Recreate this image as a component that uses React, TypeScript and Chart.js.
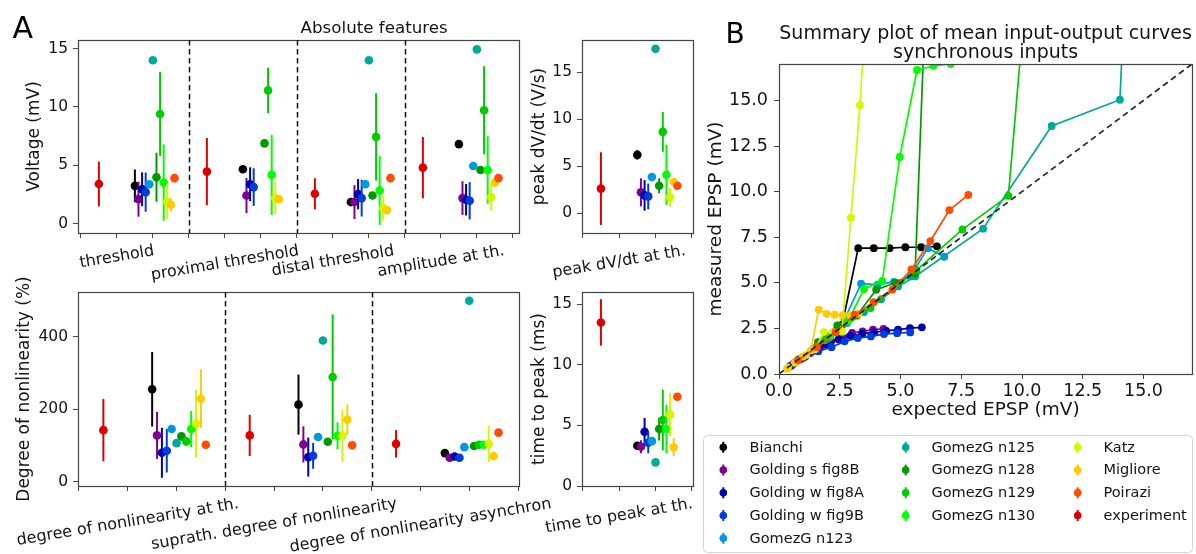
import React, { useEffect, useRef } from 'react';
import { Chart, registerables } from 'chart.js';

Chart.register(...registerables);

const W = 1196;
const H = 554;
const FONT = '"DejaVu Sans", "Liberation Sans", sans-serif';
const INK = '#141414';
const SPINE = '#444444';

// ---------------- series ----------------
const SERIES = ['Bianchi', 'Golding s fig8B', 'Golding w fig8A', 'Golding w fig9B', 'GomezG n123', 'GomezG n125',
  'GomezG n128', 'GomezG n129', 'GomezG n130', 'Katz', 'Migliore', 'Poirazi', 'experiment'];
const COLORS = ['#000000', '#800091', '#0000aa', '#003cdd', '#0099dd', '#00aa99',
  '#009900', '#00cc00', '#00ff00', '#d4f600', '#ffcc00', '#ff4d00', '#dd0000'];
const EXP_INDEX = 12;

// ---------------- panel A : feature categories ----------------
const TOP_FEATURES = ['threshold', 'proximal threshold', 'distal threshold', 'amplitude at th.'];
const DVDT_FEATURES = ['peak dV/dt at th.'];
const NONLIN_FEATURES = ['degree of nonlinearity at th.', 'suprath. degree of nonlinearity', 'degree of nonlinearity asynchron'];
const TTP_FEATURES = ['time to peak at th.'];

// values per series (order of SERIES), mean and sd
const THRESHOLD_MEAN = [3.24, 2.1, 2.95, 2.7, 3.38, 14.0, 3.98, 9.4, 3.52, 1.9, 1.62, 3.9, 3.4];
const THRESHOLD_SD = [1.4, 1.5, 1.45, 1.68, 0, 0, 2.1, 3.6, 3.27, 1.5, 0.57, 0, 1.92];
const PROXIMAL_MEAN = [4.66, 2.41, 3.38, 3.13, null, null, 6.88, 11.42, 4.18, 2.19, 2.1, null, 4.46];
const PROXIMAL_SD = [0.1, 1.5, 1.45, 1.62, null, null, 0, 1.95, 3.43, 1.38, 0, null, 2.88];
const DISTAL_MEAN = [1.85, 1.85, 2.53, 2.19, 3.38, 14.0, 2.41, 7.44, 2.84, 1.34, 1.16, 3.9, 2.56];
const DISTAL_SD = [0, 1.45, 1.3, 1.58, 0, 0, 0, 3.75, 2.95, 1.07, 0, 0, 1.33];
const AMPLITUDE_MEAN = [6.82, 2.19, 2.05, 1.96, 4.94, 14.94, 4.6, 9.72, 4.6, 2.27, 3.52, 3.9, 4.8];
const AMPLITUDE_SD = [0, 1.45, 1.35, 1.6, 0, 0, 0, 3.77, 2.9, 1.13, 0.2, 0, 2.63];
const DVDT_MEAN = [6.2, 2.2, 1.88, 1.77, 3.83, 17.5, 2.9, 8.65, 4.08, 1.67, 3.3, 2.9, 2.6];
const DVDT_SD = [0.5, 1.5, 1.63, 1.37, 0, 0, 0.8, 2.13, 3.21, 1.01, 0.28, 0, 3.87];
const NONLIN_MEAN = [255, 127.5, 79.4, 85, 145, 106, 124.7, 111, 145, 160, 229, 101.6, 142];
const NONLIN_SD = [103, 65, 69, 60, 0, 0, 11, 12, 50, 94, 81, 0, 86];
const SUPRATH_MEAN = [212.5, 102.5, 67.4, 71, 123, 390, 110, 289, 126.6, 126.6, 171, 100, 127.5];
const SUPRATH_SD = [83, 50, 54, 36, 0, 0, 0, 173, 37, 72, 42, 0, 57];
const ASYNC_MEAN = [78.5, 65.6, 69, 65.6, 95, 500, 98, 101.6, 101.6, 104, 70, 135, 104];
const ASYNC_SD = [0, 0, 0, 0, 0, 0, 0, 0, 5, 50, 0, 0, 38];
const TTP_MEAN = [3.32, 3.24, 4.48, 3.57, 3.7, 1.95, 4.7, 5.44, 4.7, 5.9, 3.2, 7.36, 13.49];
const TTP_SD = [0, 0.53, 1.13, 0.87, 0, 0, 0.95, 2.5, 2.0, 1.78, 0.75, 0, 1.92];

const VOLT_TICKS = [0, 5, 10, 15];
const DVDT_TICKS = [0, 5, 10, 15];
const NONLIN_TICKS = [0, 200, 400];
const TTP_TICKS = [0, 5, 10, 15];

// ---------------- panel B : input-output curves ----------------
const IO_BIANCHI_X = [0.65, 1.3, 1.95, 2.6, 3.26, 3.9, 4.55, 5.2, 5.85, 6.5];
const IO_BIANCHI_Y = [0.62, 1.2, 1.75, 2.7, 6.9, 6.9, 6.9, 6.95, 6.95, 7.0];
const IO_GOLD_S8B_X = [0.43, 0.86, 1.29, 1.72, 2.15, 2.58, 3.01, 3.44, 3.87, 4.3];
const IO_GOLD_S8B_Y = [0.42, 0.8, 1.15, 1.5, 1.8, 2.05, 2.25, 2.34, 2.43, 2.48];
const IO_GOLD_W8A_X = [0.49, 0.98, 1.47, 1.96, 2.45, 2.94, 3.43, 3.92, 4.41, 4.9, 5.39, 5.88];
const IO_GOLD_W8A_Y = [0.45, 0.88, 1.28, 1.6, 1.9, 2.1, 2.21, 2.28, 2.37, 2.43, 2.52, 2.56];
const IO_GOLD_W9B_X = [0.54, 1.08, 1.62, 2.16, 2.7, 3.24, 3.78, 4.32, 4.86, 5.4];
const IO_GOLD_W9B_Y = [0.5, 0.95, 1.25, 1.47, 1.79, 1.97, 2.06, 2.19, 2.24, 2.28];
const IO_N123_X = [0.68, 1.35, 2.03, 2.7, 3.38, 4.06, 4.73, 5.41, 6.12, 6.8];
const IO_N123_Y = [0.65, 1.3, 1.95, 3.0, 4.95, 4.9, 5.05, 5.35, 6.9, 6.43];
const IO_N125_X = [0.7, 1.4, 2.1, 2.8, 3.5, 4.2, 4.9, 5.6, 8.4, 11.22, 14.03, 14.7];
const IO_N125_Y = [0.68, 1.36, 2.05, 2.8, 3.4, 4.1, 4.8, 5.35, 7.97, 13.6, 15.04, 35];
const IO_N128_X = [0.8, 1.6, 2.4, 3.2, 4.0, 4.8, 5.6, 6.4];
const IO_N128_Y = [0.8, 1.75, 2.67, 3.2, 4.62, 5.0, 5.51, 33.5];
const IO_N129_X = [1.89, 3.77, 5.66, 7.55, 9.44, 11.33];
const IO_N129_Y = [1.85, 3.62, 5.7, 7.93, 9.77, 39];
const IO_N130_X = [0.71, 1.42, 2.13, 2.84, 3.5, 4.25, 4.97, 5.68, 6.36, 7.07];
const IO_N130_Y = [0.7, 1.4, 2.1, 2.9, 4.66, 5.1, 11.9, 16.67, 16.9, 17.0];
const IO_KATZ_X = [0.37, 0.74, 1.11, 1.48, 1.85, 2.22, 2.59, 2.96, 3.33, 3.7];
const IO_KATZ_Y = [0.36, 0.72, 1.05, 1.36, 2.3, 2.3, 2.32, 8.57, 14.74, 22.3];
const IO_MIGLIORE_X = [0.33, 0.65, 0.98, 1.31, 1.63, 1.96, 2.29, 2.62, 2.94, 3.27];
const IO_MIGLIORE_Y = [0.3, 0.62, 0.95, 1.3, 3.53, 3.3, 3.25, 3.22, 3.22, 3.3];
const IO_POIRAZI_X = [0.78, 1.56, 2.33, 3.11, 3.89, 4.67, 5.45, 6.23, 7.01, 7.79];
const IO_POIRAZI_Y = [0.75, 1.48, 2.29, 3.26, 3.94, 4.63, 5.73, 7.29, 8.99, 9.82];

const IO_X = [IO_BIANCHI_X, IO_GOLD_S8B_X, IO_GOLD_W8A_X, IO_GOLD_W9B_X, IO_N123_X, IO_N125_X, IO_N128_X,
  IO_N129_X, IO_N130_X, IO_KATZ_X, IO_MIGLIORE_X, IO_POIRAZI_X];
const IO_Y = [IO_BIANCHI_Y, IO_GOLD_S8B_Y, IO_GOLD_W8A_Y, IO_GOLD_W9B_Y, IO_N123_Y, IO_N125_Y, IO_N128_Y,
  IO_N129_Y, IO_N130_Y, IO_KATZ_Y, IO_MIGLIORE_Y, IO_POIRAZI_Y];

const B_TICKS = [0, 2.5, 5, 7.5, 10, 12.5, 15];
const B_MAX = 17;

// ---------------- helpers ----------------
type Feature = { mean: (number | null)[]; sd: (number | null)[] };

interface PanelSpec {
  area: [number, number, number, number];
  xRange: [number, number];
  yRange: [number, number];
  yTicks: number[];
  yTitle: string;
  yTitleX: number;
  labels: string[];
  features: Feature[];
  extras?: (ctx: CanvasRenderingContext2D) => void;
}

const f = (size: number) => `${size}px ${FONT}`;
const Y_AXIS_BOX = 46;   // room reserved for y tick labels (left of plot area)
const X_AXIS_BOX = 34;   // room reserved for x tick labels (below plot area)

function strokeSpines(ctx: CanvasRenderingContext2D, ca: any) {
  ctx.save();
  ctx.strokeStyle = SPINE;
  ctx.lineWidth = 1.2;
  ctx.strokeRect(Math.round(ca.left) + 0.5, Math.round(ca.top) + 0.5, Math.round(ca.width), Math.round(ca.height));
  ctx.restore();
}

function rotatedTitle(ctx: CanvasRenderingContext2D, text: string, x: number, y: number, size: number) {
  ctx.save();
  ctx.translate(x, y);
  ctx.rotate(-Math.PI / 2);
  ctx.font = f(size);
  ctx.fillStyle = INK;
  ctx.textAlign = 'center';
  ctx.textBaseline = 'alphabetic';
  ctx.fillText(text, 0, 0);
  ctx.restore();
}

function buildPanel(spec: PanelSpec) {
  const [l, t, r, b] = spec.area;
  const nG = spec.labels.length;
  const xTicks = Array.from({ length: nG * 3 + 1 }, (_, i) => i);
  const datasets = SERIES.map((name, s) => {
    const pts: any[] = [];
    spec.features.forEach((feat, g) => {
      const m = feat.mean[s];
      if (m === null || m === undefined) return;
      const x = s === EXP_INDEX ? g * 3 + 0.5 : g * 3 + 1.5 + 0.1 * s;
      pts.push({ x, y: m, err: feat.sd[s] || 0 });
    });
    return {
      label: name,
      data: pts,
      backgroundColor: COLORS[s],
      borderColor: COLORS[s],
      pointRadius: 4.3,
      pointHoverRadius: 4.3,
      pointBorderWidth: 0,
      showLine: false,
      order: -s,
    };
  });

  const plugin = {
    id: 'panelDecor',
    beforeDatasetDraw(chart: any, args: any) {
      const ds = chart.data.datasets[args.index];
      const { ctx, chartArea: ca } = chart;
      const xs = chart.scales.x;
      const ys = chart.scales.y;
      ctx.save();
      ctx.beginPath();
      ctx.rect(ca.left, ca.top, ca.width, ca.height);
      ctx.clip();
      ctx.strokeStyle = ds.borderColor;
      ctx.lineWidth = 2;
      for (const p of ds.data) {
        if (!p.err) continue;
        const px = xs.getPixelForValue(p.x);
        ctx.beginPath();
        ctx.moveTo(px, ys.getPixelForValue(p.y - p.err));
        ctx.lineTo(px, ys.getPixelForValue(p.y + p.err));
        ctx.stroke();
      }
      ctx.restore();
    },
    afterDraw(chart: any) {
      const { ctx, chartArea: ca } = chart;
      const xs = chart.scales.x;
      strokeSpines(ctx, ca);
      // group separators
      ctx.save();
      ctx.strokeStyle = '#111';
      ctx.lineWidth = 1.5;
      ctx.setLineDash([5.5, 3.5]);
      for (let g = 1; g < nG; g++) {
        const px = Math.round(xs.getPixelForValue(g * 3)) + 0.5;
        ctx.beginPath();
        ctx.moveTo(px, ca.top);
        ctx.lineTo(px, ca.bottom);
        ctx.stroke();
      }
      ctx.restore();
      // rotated category labels
      const theta = (9.5 * Math.PI) / 180;
      ctx.save();
      ctx.font = f(16);
      ctx.fillStyle = INK;
      spec.labels.forEach((lab, g) => {
        const w = ctx.measureText(lab).width;
        const bh = w * Math.sin(theta) + 18 * Math.cos(theta);
        const cx = xs.getPixelForValue(g * 3 + 1);
        const cy = ca.bottom + 9 + bh / 2;
        ctx.save();
        ctx.translate(cx, cy);
        ctx.rotate(-theta);
        ctx.textAlign = 'center';
        ctx.textBaseline = 'middle';
        ctx.fillText(lab, 0, 0);
        ctx.restore();
      });
      ctx.restore();
      rotatedTitle(ctx, spec.yTitle, spec.yTitleX, (ca.top + ca.bottom) / 2, 17);
      if (spec.extras) spec.extras(ctx);
    },
  };

  return {
    type: 'scatter',
    data: { datasets },
    options: {
      responsive: false,
      animation: false,
      devicePixelRatio: 1,
      events: [],
      layout: { padding: { left: l - Y_AXIS_BOX, top: t, right: W - r, bottom: H - b } },
      plugins: { legend: { display: false }, tooltip: { enabled: false }, title: { display: false } },
      scales: {
        x: {
          type: 'linear',
          min: spec.xRange[0],
          max: spec.xRange[1],
          bounds: 'data',
          afterFit: (s: any) => { s.height = 0; },
          afterBuildTicks: (s: any) => { s.ticks = xTicks.map((v) => ({ value: v })); },
          ticks: { display: false },
          grid: { drawOnChartArea: false, drawTicks: true, tickLength: 5, color: SPINE, lineWidth: 1 },
          border: { display: false },
        },
        y: {
          type: 'linear',
          min: spec.yRange[0],
          max: spec.yRange[1],
          bounds: 'data',
          afterFit: (s: any) => { s.width = Y_AXIS_BOX; },
          afterBuildTicks: (s: any) => { s.ticks = spec.yTicks.map((v) => ({ value: v })); },
          ticks: { font: { family: FONT, size: 15.5 }, color: INK, padding: 5, autoSkip: false },
          grid: { drawOnChartArea: false, drawTicks: true, tickLength: 5, color: SPINE, lineWidth: 1 },
          border: { display: false },
        },
      },
    },
    plugins: [plugin],
  };
}

function buildSummary() {
  const [l, t, r, b] = [779, 64, 1194, 374];
  const datasets: any[] = IO_X.map((xs, s) => ({
    label: SERIES[s],
    data: xs.map((x, i) => ({ x, y: IO_Y[s][i] })),
    showLine: true,
    borderColor: COLORS[s],
    backgroundColor: COLORS[s],
    borderWidth: 1.7,
    pointRadius: 3.9,
    pointHoverRadius: 3.9,
    pointBorderWidth: 0,
    order: -s,
  }));
  datasets.push({
    label: 'identity',
    data: [{ x: 0, y: 0 }, { x: B_MAX, y: B_MAX }],
    showLine: true,
    borderColor: '#222',
    borderWidth: 1.7,
    borderDash: [6, 4],
    pointRadius: 0,
    order: -100,
  });

  const plugin = {
    id: 'summaryDecor',
    afterDraw(chart: any) {
      const { ctx, chartArea: ca } = chart;
      strokeSpines(ctx, ca);
      ctx.save();
      ctx.fillStyle = INK;
      ctx.textAlign = 'center';
      ctx.textBaseline = 'alphabetic';
      ctx.font = f(19);
      const cx = (ca.left + ca.right) / 2;
      ctx.fillText('Summary plot of mean input-output curves', cx, 38.5);
      ctx.fillText('synchronous inputs', cx, 57.5);
      ctx.font = f(18.5);
      ctx.fillText('expected EPSP (mV)', cx, 415);
      ctx.textAlign = 'left';
      ctx.font = f(28);
      ctx.fillStyle = '#000';
      ctx.fillText('B', 725.5, 43.3);
      ctx.restore();
      rotatedTitle(ctx, 'measured EPSP (mV)', 720.5, (ca.top + ca.bottom) / 2, 18.5);

      // legend (3 columns, column-major like the original)
      ctx.save();
      const lx = 703.5, ly = 435.5, lw = 489, lh = 117, rad = 4;
      ctx.beginPath();
      ctx.moveTo(lx + rad, ly);
      ctx.lineTo(lx + lw - rad, ly);
      ctx.arcTo(lx + lw, ly, lx + lw, ly + rad, rad);
      ctx.lineTo(lx + lw, ly + lh - rad);
      ctx.arcTo(lx + lw, ly + lh, lx + lw - rad, ly + lh, rad);
      ctx.lineTo(lx + rad, ly + lh);
      ctx.arcTo(lx, ly + lh, lx, ly + lh - rad, rad);
      ctx.lineTo(lx, ly + rad);
      ctx.arcTo(lx, ly, lx + rad, ly, rad);
      ctx.closePath();
      ctx.fillStyle = 'rgba(255,255,255,0.85)';
      ctx.fill();
      ctx.strokeStyle = '#d4d4d4';
      ctx.lineWidth = 1;
      ctx.stroke();
      const markerX = [723.3, 905.7, 1077.7];
      const textX = [749.5, 931.5, 1103.5];
      const perCol = [5, 4, 4];
      let idx = 0;
      for (let c = 0; c < 3; c++) {
        for (let rIdx = 0; rIdx < perCol[c]; rIdx++, idx++) {
          const y = 447.3 + rIdx * 22.75;
          ctx.strokeStyle = COLORS[idx];
          ctx.fillStyle = COLORS[idx];
          ctx.lineWidth = 2;
          ctx.beginPath();
          ctx.moveTo(markerX[c], y - 5.5);
          ctx.lineTo(markerX[c], y + 5.5);
          ctx.stroke();
          ctx.beginPath();
          ctx.arc(markerX[c], y, 3.8, 0, Math.PI * 2);
          ctx.fill();
          ctx.fillStyle = INK;
          ctx.font = f(14.5);
          ctx.textAlign = 'left';
          ctx.textBaseline = 'middle';
          ctx.fillText(SERIES[idx], textX[c], y + 0.5);
        }
      }
      ctx.restore();
    },
  };

  const axisCommon = {
    type: 'linear',
    min: 0,
    max: B_MAX,
    bounds: 'data',
    grid: { drawOnChartArea: false, drawTicks: true, tickLength: 5, color: SPINE, lineWidth: 1 },
    border: { display: false },
  };
  const yBox = 66;

  return {
    type: 'scatter',
    data: { datasets },
    options: {
      responsive: false,
      animation: false,
      devicePixelRatio: 1,
      events: [],
      layout: { padding: { left: l - yBox, top: t, right: W - r, bottom: H - b - X_AXIS_BOX } },
      plugins: { legend: { display: false }, tooltip: { enabled: false }, title: { display: false } },
      scales: {
        x: {
          ...axisCommon,
          afterFit: (s: any) => { s.height = X_AXIS_BOX; },
          afterBuildTicks: (s: any) => { s.ticks = B_TICKS.map((v) => ({ value: v })); },
          ticks: {
            font: { family: FONT, size: 17.5 }, color: INK, padding: 2, autoSkip: false, maxRotation: 0, minRotation: 0,
            callback: (v: any) => Number(v).toFixed(1),
          },
        },
        y: {
          ...axisCommon,
          afterFit: (s: any) => { s.width = yBox; },
          afterBuildTicks: (s: any) => { s.ticks = B_TICKS.map((v) => ({ value: v })); },
          ticks: {
            font: { family: FONT, size: 17.5 }, color: INK, padding: 6, autoSkip: false,
            callback: (v: any) => Number(v).toFixed(1),
          },
        },
      },
    },
    plugins: [plugin],
  };
}

const PANELS: PanelSpec[] = [
  {
    area: [78, 40, 519, 233],
    xRange: [-0.08, 12.17],
    yRange: [-0.8, 15.74],
    yTicks: VOLT_TICKS,
    yTitle: 'Voltage (mV)',
    yTitleX: 39,
    labels: TOP_FEATURES,
    features: [
      { mean: THRESHOLD_MEAN, sd: THRESHOLD_SD },
      { mean: PROXIMAL_MEAN, sd: PROXIMAL_SD },
      { mean: DISTAL_MEAN, sd: DISTAL_SD },
      { mean: AMPLITUDE_MEAN, sd: AMPLITUDE_SD },
    ],
    extras: (ctx) => {
      ctx.save();
      ctx.fillStyle = '#000';
      ctx.textBaseline = 'alphabetic';
      ctx.textAlign = 'left';
      ctx.font = f(30);
      ctx.fillText('A', 12.5, 38.3);
      ctx.fillStyle = INK;
      ctx.textAlign = 'center';
      ctx.font = f(16.7);
      ctx.fillText('Absolute features', 374.2, 33);
      ctx.restore();
    },
  },
  {
    area: [582, 40, 693, 233],
    xRange: [-0.02, 3.03],
    yRange: [-2.13, 18.44],
    yTicks: DVDT_TICKS,
    yTitle: 'peak dV/dt (V/s)',
    yTitleX: 544,
    labels: DVDT_FEATURES,
    features: [{ mean: DVDT_MEAN, sd: DVDT_SD }],
  },
  {
    area: [78, 292, 519, 486],
    xRange: [-0.02, 9.02],
    yRange: [-12.5, 524],
    yTicks: NONLIN_TICKS,
    yTitle: 'Degree of nonlinearity (%)',
    yTitleX: 29,
    labels: NONLIN_FEATURES,
    features: [
      { mean: NONLIN_MEAN, sd: NONLIN_SD },
      { mean: SUPRATH_MEAN, sd: SUPRATH_SD },
      { mean: ASYNC_MEAN, sd: ASYNC_SD },
    ],
  },
  {
    area: [582, 292, 693, 486],
    xRange: [-0.02, 3.03],
    yRange: [0, 16],
    yTicks: TTP_TICKS,
    yTitle: 'time to peak (ms)',
    yTitleX: 544,
    labels: TTP_FEATURES,
    features: [{ mean: TTP_MEAN, sd: TTP_SD }],
  },
];

function ChartLayer({ build }: { build: () => any }) {
  const ref = useRef<HTMLCanvasElement>(null);
  useEffect(() => {
    const chart = new Chart(ref.current as HTMLCanvasElement, build());
    return () => chart.destroy();
  }, []);
  return (
    <canvas
      ref={ref}
      width={W}
      height={H}
      style={{ position: 'absolute', left: 0, top: 0, width: W, height: H }}
    />
  );
}

export default function App() {
  return (
    <div style={{ position: 'fixed', left: 0, top: 0, width: W, height: H, background: '#ffffff', overflow: 'hidden' }}>
      {PANELS.map((p, i) => (
        <ChartLayer key={i} build={() => buildPanel(p)} />
      ))}
      <ChartLayer build={buildSummary} />
    </div>
  );
}
